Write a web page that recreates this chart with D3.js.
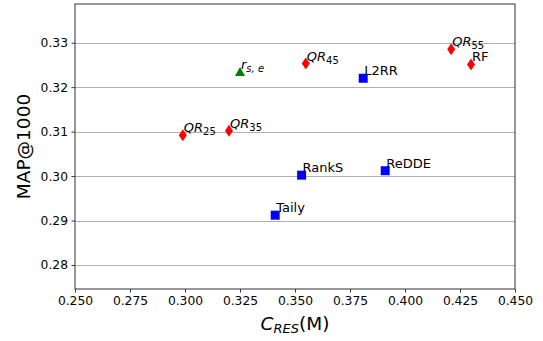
<!DOCTYPE html>
<html>
<head>
<meta charset="utf-8">
<script src="https://cdn.jsdelivr.net/npm/d3@7"></script>
<style>
  body { margin: 0; background: #fff; }
  text { font-family: "DejaVu Sans", sans-serif; }
</style>
</head>
<body>
<div id="chart"></div>
<script>
// data
var names   = ["QR25", "QR35", "rse", "QR45", "L2RR", "QR55", "RF", "RankS", "ReDDE", "Taily"];
var cres    = [0.299, 0.320, 0.325, 0.3549, 0.381, 0.421, 0.430, 0.353, 0.391, 0.341];
var map1000 = [0.3092, 0.3102, 0.3234, 0.3253, 0.3220, 0.3285, 0.3251, 0.3002, 0.3012, 0.2912];
var kinds   = ["d", "d", "t", "d", "s", "d", "d", "s", "s", "s"];
// label parts: main text, subscript, italic?
var labMain = ["QR", "QR", "r", "QR", "L2RR", "QR", "RF", "RankS", "ReDDE", "Taily"];
var labSub  = ["25", "35", "s, e", "45", "", "55", "", "", "", ""];
var labItal = [true, true, true, true, false, true, false, false, false, false];
var xTicks  = [0.250, 0.275, 0.300, 0.325, 0.350, 0.375, 0.400, 0.425, 0.450];
var yTicks  = [0.28, 0.29, 0.30, 0.31, 0.32, 0.33];

var width = 543, height = 341;
var padL = 75, padR = 515, padT = 4, padB = 289;

var svg = d3.select("#chart").append("svg").attr("width", width).attr("height", height);

var x = d3.scaleLinear().domain([0.25, 0.45]).range([padL, padR]);
var y = d3.scaleLinear().domain([0.2746, 0.3387]).range([padB, padT]);

// grid
svg.selectAll(".grid").data(yTicks).enter().append("line")
  .attr("x1", padL).attr("x2", padR)
  .attr("y1", function(d){return Math.round(y(d)) + 0.5}).attr("y2", function(d){return Math.round(y(d)) + 0.5})
  .attr("stroke", "#b0b0b0").attr("stroke-width", 1);

// axes
var xAxis = d3.axisBottom(x).tickValues(xTicks).tickFormat(d3.format(".3f")).tickSizeOuter(0).tickSize(3.5).tickPadding(3.5);
var yAxis = d3.axisLeft(y).tickValues(yTicks).tickFormat(d3.format(".2f")).tickSizeOuter(0).tickSize(3.5).tickPadding(3.5);

var gx = svg.append("g").attr("transform", "translate(0," + padB + ")").call(xAxis);
var gy = svg.append("g").attr("transform", "translate(" + padL + ",0)").call(yAxis);
[gx, gy].forEach(function(g){
  g.select(".domain").remove();
  g.selectAll("line").attr("stroke", "#000").attr("stroke-width", 0.8);
  g.selectAll("text").attr("font-size", 12.3).attr("fill", "#000").attr("font-family", "DejaVu Sans");
});

// frame
svg.append("rect").attr("x", padL).attr("y", padT).attr("width", padR - padL).attr("height", padB - padT)
  .attr("fill", "none").attr("stroke", "#333").attr("stroke-width", 1);

// markers
var pts = d3.range(names.length);
var colorOf = {d: "#ff0000", s: "#0000ff", t: "#008000"};
svg.selectAll(".pt").data(pts).enter().append("path")
  .attr("transform", function(i){return "translate(" + x(cres[i]) + "," + y(map1000[i]) + ")"})
  .attr("d", function(i){
    var k = kinds[i];
    if (k == "d") return "M0,-6L4,0L0,6L-4,0Z";
    if (k == "s") return "M-4.5,-4.5H4.5V4.5H-4.5Z";
    return "M0,-5L5,4L-5,4Z";
  })
  .attr("fill", function(i){return colorOf[kinds[i]]});

// labels
var labs = svg.selectAll(".lab").data(pts).enter().append("text")
  .attr("x", function(i){return x(cres[i]) + 1}).attr("y", function(i){return y(map1000[i]) - 3})
  .attr("font-size", 13).attr("fill", "#000");
labs.append("tspan").text(function(i){return labMain[i]})
  .attr("font-style", function(i){return labItal[i] ? "italic" : "normal"});
labs.filter(function(i){return labSub[i] != ""}).append("tspan")
  .text(function(i){return labSub[i]})
  .attr("font-size", 10).attr("dy", 3)
  .attr("font-style", function(i){return kinds[i] == "t" ? "italic" : "normal"});

// axis titles
var xl = svg.append("text").attr("x", (padL + padR) / 2).attr("y", 330)
  .attr("text-anchor", "middle").attr("font-size", 18.5);
xl.append("tspan").text("C").attr("font-style", "italic");
xl.append("tspan").text("RES").attr("font-style", "italic").attr("font-size", 13).attr("dy", 3);
xl.append("tspan").text("(M)").attr("dy", -3);

svg.append("text").text("MAP@1000")
  .attr("transform", "translate(30," + ((padT + padB) / 2) + ") rotate(-90)")
  .attr("text-anchor", "middle").attr("font-size", 18.5);
</script>
</body>
</html>
